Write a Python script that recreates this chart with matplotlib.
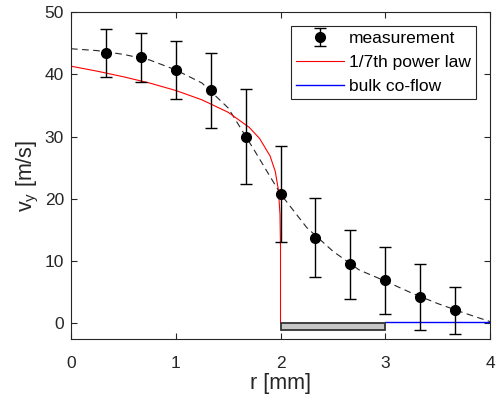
import numpy as np
import matplotlib.pyplot as plt
from matplotlib.patches import Rectangle

plt.rcParams['font.family'] = ['Liberation Sans', 'DejaVu Sans']

# measured points
r_meas = [1/3, 2/3, 1.0, 4/3, 5/3, 2.0, 7/3, 8/3, 3.0, 10/3, 11/3]
v_meas = [43.4, 42.7, 40.7, 37.4, 30.0, 20.8, 13.8, 9.5, 6.9, 4.2, 2.1]
v_err = [3.9, 4.0, 4.6, 6.0, 7.6, 7.7, 6.4, 5.5, 5.4, 5.3, 3.8]

# fitted profile (dashed)
r_fit = [0, 0.25, 0.5, 0.75, 1.0, 1.25, 1.5, 1.75, 2.0, 2.25, 2.5, 2.75, 3.0, 3.25, 3.5, 3.75, 4.0]
v_fit = [44.1, 43.8, 43.2, 42.3, 40.7, 38.6, 34.6, 27.8, 20.8, 15.4, 11.6, 8.6, 6.8, 4.9, 3.2, 1.7, 0.3]

# 1/7th power law
r_pow = [0, 0.25, 0.5, 0.75, 1.0, 1.25, 1.5, 1.7, 1.8, 1.9, 1.95, 1.98, 1.995, 2.0, 2.0]
v_pow = [41.3, 40.5, 39.6, 38.6, 37.4, 35.9, 33.9, 31.5, 29.7, 26.9, 24.4, 21.4, 17.5, 12.0, 0.0]

# bulk co-flow
r_bulk = [3.0, 4.0]
v_bulk = [0.3, 0.3]

# nozzle wall
wall_r = (2.0, 3.0)
wall_v = (-1.1, 0.1)

fig = plt.figure(figsize=(4.98, 4.08), dpi=100)
ax = fig.add_axes([0.1426, 0.169, 0.8414, 0.8016])

ax.plot(r_fit, v_fit, '--', color='0.15', lw=0.8, dashes=(6, 4))
ax.plot(r_pow, v_pow, color='red', lw=0.8, label='1/7th power law')
ax.plot(r_bulk, v_bulk, color='blue', lw=1.0, label='bulk co-flow')
ax.errorbar(r_meas, v_meas, yerr=v_err, fmt='o', color='black', ms=7,
            elinewidth=1.0, capsize=4, capthick=1.0, label='measurement')
ax.add_patch(Rectangle((wall_r[0], wall_v[0]), wall_r[1] - wall_r[0], wall_v[1] - wall_v[0],
                       facecolor='0.78', edgecolor='0.2', lw=1.3, zorder=5))

ax.set_xlim(0, 4)
ax.set_ylim(-2.5, 50)
ax.set_xticks([0, 1, 2, 3, 4])
ax.set_yticks([0, 10, 20, 30, 40, 50])
ax.tick_params(direction='in', top=True, right=True, labelsize=12.5, colors='0.15', length=4)
ax.tick_params(axis='x', pad=12)
ax.tick_params(axis='y', pad=5)
for s in ax.spines.values():
    s.set_color('0.15')
    s.set_linewidth(0.8)

ax.set_xlabel('r [mm]', fontsize=15.5, color='0.15', labelpad=2)
ax.set_ylabel('v$_\\mathregular{y}$ [m/s]', fontsize=15.5, color='0.15', labelpad=3)

h, l = ax.get_legend_handles_labels()
order = [2, 0, 1]
leg = ax.legend([h[i] for i in order], [l[i] for i in order], loc='upper right',
                fontsize=12.5, fancybox=False, edgecolor='0.15', framealpha=1,
                borderaxespad=0.8, handlelength=2.75, handletextpad=0.3,
                labelspacing=0.5, borderpad=0.3)
leg.get_frame().set_linewidth(0.8)

fig.savefig('out.png', dpi=100)
